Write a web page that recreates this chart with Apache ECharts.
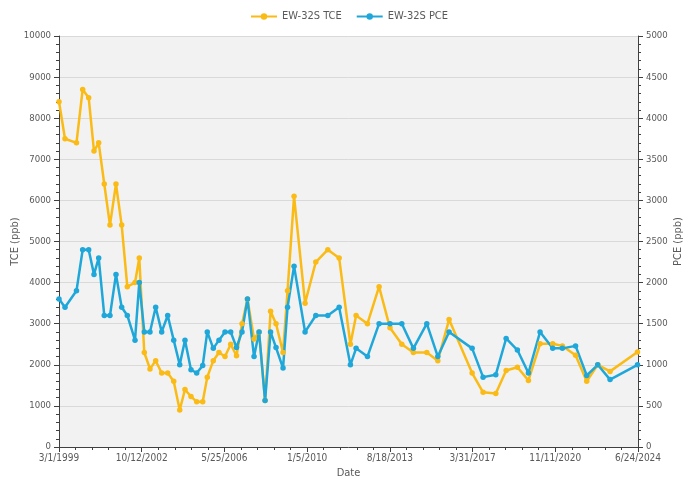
<!DOCTYPE html>
<html>
<head>
<meta charset="utf-8">
<title>EW-32S TCE / PCE</title>
<script src="https://cdn.jsdelivr.net/npm/echarts@6/dist/echarts.min.js"></script>
<style>
  html, body { margin: 0; padding: 0; background: #fff; }
  #chart { width: 698px; height: 480px; }
</style>
</head>
<body>
<div id="chart"></div>
<script>
// sample dates
const sampleDates = [
  '1999-03-01', '1999-06-05', '1999-12-05', '2000-03-13', '2000-06-17', '2000-09-10',
  '2000-11-24', '2001-02-21', '2001-05-23', '2001-08-27', '2001-11-26', '2002-02-24',
  '2002-06-27', '2002-09-03', '2002-11-22', '2003-02-21', '2003-05-23', '2003-08-27',
  '2003-12-01', '2004-03-06', '2004-06-10', '2004-09-02', '2004-12-07', '2005-03-08',
  '2005-06-12', '2005-08-24', '2005-11-28', '2006-02-27', '2006-06-03', '2006-09-02',
  '2006-12-04', '2007-03-02', '2007-05-28', '2007-09-10', '2007-11-29', '2008-03-04',
  '2008-05-31', '2008-08-26', '2008-12-16', '2009-02-26', '2009-06-10', '2009-12-03',
  '2010-05-23', '2010-12-01', '2011-05-31', '2011-11-27', '2012-02-26', '2012-08-25',
  '2013-02-27', '2013-08-20', '2014-02-25', '2014-08-29', '2015-03-31', '2015-09-23',
  '2016-03-21', '2017-03-24', '2017-09-15', '2018-04-06', '2018-09-18', '2019-03-17',
  '2019-09-09', '2020-03-13', '2020-10-01', '2021-03-04', '2021-10-01', '2022-03-28',
  '2022-09-20', '2023-04-05', '2024-06-16'
]
// TCE (ppb), left axis
const tceValues = [
  8400, 7500, 7400, 8700, 8500, 7200,
  7400, 6400, 5400, 6400, 5400, 3900,
  4000, 4600, 2300, 1900, 2100, 1800,
  1800, 1600, 900, 1400, 1230, 1100,
  1100, 1700, 2100, 2300, 2200, 2500,
  2220, 3000, 3600, 2630, 2800, 1130,
  3300, 3000, 2300, 3800, 6100, 3500,
  4500, 4800, 4600, 2500, 3200, 3000,
  3900, 2900, 2500, 2300, 2300, 2100,
  3100, 1800, 1330, 1300, 1860, 1940,
  1620, 2510, 2510, 2460, 2230, 1600,
  2000, 1840, 2310
]
// PCE (ppb), right axis
const pceValues = [
  1800, 1700, 1900, 2400, 2400, 2100,
  2300, 1600, 1600, 2100, 1700, 1600,
  1300, 2000, 1400, 1400, 1700, 1400,
  1600, 1300, 1000, 1300, 940, 900,
  990, 1400, 1200, 1300, 1400, 1400,
  1210, 1400, 1800, 1100, 1400, 565,
  1400, 1210, 960, 1700, 2200, 1400,
  1600, 1600, 1700, 1000, 1200, 1100,
  1500, 1500, 1500, 1200, 1500, 1100,
  1400, 1200, 850, 880, 1320, 1180,
  900, 1400, 1200, 1200, 1230, 870,
  1000, 820, 1000
]
const axisStart = '1999-03-01'
const axisEnd = '2024-06-24'
const dateStepDays = 1321

const DAY = 86400000
const toUtc = s => {
  const p = s.split('-').map(Number)
  return Date.UTC(p[0], p[1] - 1, p[2])
}
const base = toUtc(axisStart)
// x axis is days since the first date
const toDay = s => Math.round((toUtc(s) - base) / DAY)
const fmtDay = v => {
  const d = new Date(base + v * DAY)
  return (d.getUTCMonth() + 1) + '/' + d.getUTCDate() + '/' + d.getUTCFullYear()
}

const tceData = sampleDates.map((d, i) => [toDay(d), tceValues[i]])
const pceData = sampleDates.map((d, i) => [toDay(d), pceValues[i]])

const FONT = 'Liberation Sans Narrow, DejaVu Sans Condensed, sans-serif'
const TXT = '#595959'
const AXIS = '#404040'

const chart = echarts.init(document.getElementById('chart'))
chart.setOption({
  animation: false,
  textStyle: { fontFamily: FONT },
  legend: {
    top: 6,
    left: 'center',
    itemWidth: 26,
    itemHeight: 8,
    itemGap: 14,
    textStyle: { color: TXT, fontSize: 11, fontFamily: FONT },
    data: ['EW-32S TCE', 'EW-32S PCE']
  },
  grid: {
    left: 59,
    right: 60,
    top: 36,
    bottom: 33,
    outerBoundsMode: 'none',
    containLabel: false,
    show: true,
    backgroundColor: '#f2f2f2',
    borderWidth: 0
  },
  xAxis: {
    type: 'value',
    min: 0,
    max: toDay(axisEnd),
    interval: dateStepDays,
    name: 'Date',
    nameLocation: 'middle',
    nameGap: 21,
    nameMoveOverlap: false,
    nameTextStyle: { color: TXT, fontSize: 11, fontFamily: FONT },
    axisLine: { lineStyle: { color: AXIS, width: 1 } },
    axisTick: { length: 5, lineStyle: { color: AXIS } },
    minorTick: { show: true, splitNumber: 5, length: 3, lineStyle: { color: AXIS } },
    splitLine: { show: false },
    axisLabel: {
      color: TXT,
      fontSize: 10,
      margin: 6,
      showMinLabel: true,
      showMaxLabel: true,
      formatter: fmtDay
    }
  },
  yAxis: [
    {
      type: 'value',
      min: 0,
      max: 10000,
      interval: 1000,
      name: 'TCE (ppb)',
      nameLocation: 'middle',
      nameGap: 38,
      nameMoveOverlap: false,
      nameTextStyle: { color: TXT, fontSize: 11, fontFamily: FONT },
      axisLine: { show: true, lineStyle: { color: AXIS } },
      axisTick: { show: true, length: 5, lineStyle: { color: AXIS } },
      minorTick: { show: true, splitNumber: 5, length: 3, lineStyle: { color: AXIS } },
      splitLine: { lineStyle: { color: '#d9d9d9' } },
      axisLabel: { color: TXT, fontSize: 9.5, margin: 8, formatter: v => String(v) }
    },
    {
      type: 'value',
      min: 0,
      max: 5000,
      interval: 500,
      name: 'PCE (ppb)',
      nameLocation: 'middle',
      nameGap: 35,
      nameMoveOverlap: false,
      nameTextStyle: { color: TXT, fontSize: 11, fontFamily: FONT },
      axisLine: { show: true, lineStyle: { color: AXIS } },
      axisTick: { show: true, length: 5, lineStyle: { color: AXIS } },
      minorTick: { show: true, splitNumber: 5, length: 3, lineStyle: { color: AXIS } },
      splitLine: { show: false },
      axisLabel: { color: TXT, fontSize: 9.5, margin: 8, formatter: v => String(v) }
    }
  ],
  series: [
    {
      name: 'EW-32S TCE',
      type: 'line',
      yAxisIndex: 0,
      data: tceData,
      symbol: 'circle',
      symbolSize: 5.5,
      color: '#fbbb17',
      lineStyle: { width: 2.5 }
    },
    {
      name: 'EW-32S PCE',
      type: 'line',
      yAxisIndex: 1,
      data: pceData,
      symbol: 'circle',
      symbolSize: 5.5,
      color: '#1fa7d9',
      lineStyle: { width: 2.5 }
    }
  ]
})
</script>
</body>
</html>
